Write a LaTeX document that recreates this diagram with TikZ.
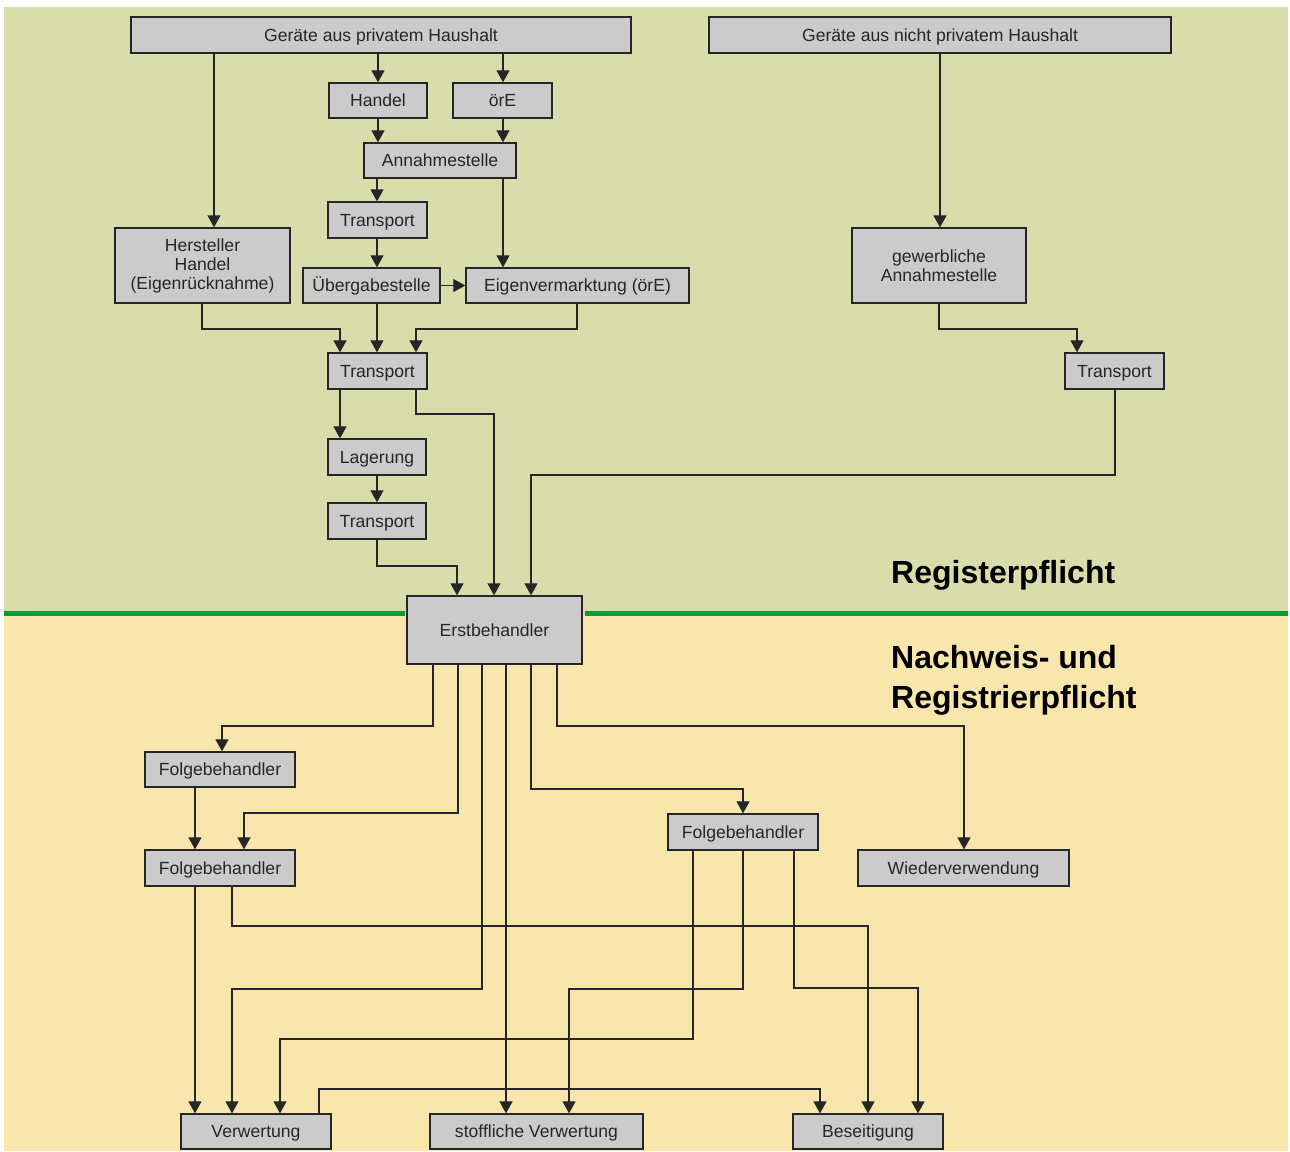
\documentclass[tikz,border=0pt]{standalone}
\usepackage{fontspec}
\setmainfont{Liberation Sans}
\usetikzlibrary{arrows.meta}
\definecolor{bgtop}{HTML}{D9DDAB}
\definecolor{bgbot}{HTML}{F8E6AC}
\definecolor{grn}{HTML}{0B9A3C}
\definecolor{boxfill}{HTML}{CBCBCB}
\definecolor{ink}{HTML}{262626}
\begin{document}
\begin{tikzpicture}[x=1pt,y=-1pt,
  box/.style={draw=ink, line width=1.3pt, fill=boxfill, inner sep=0pt, align=center,
    text=ink, font=\fontsize{17.6}{19}\selectfont},
  one/.style={box, text height=14pt, text depth=1.4pt},
  arr/.style={draw=ink, line width=1.2pt, -{Triangle[length=12pt,width=13pt]}},
  title/.style={anchor=base west, inner sep=0pt, font=\bfseries\fontsize{32}{38}\selectfont}]

\useasboundingbox (0,0) rectangle (1290,1151);
\fill[white] (0,0) rectangle (1290,1151);
\fill[bgtop] (4,7) rectangle (1288,613.7);
\fill[bgbot] (4,613.7) rectangle (1288,1151);
\draw[grn, line width=5.5pt] (4,613.7) -- (405,613.7) (585,613.7) -- (1288,613.7);

% nodes
\node[one, minimum width=500pt, minimum height=36pt] (gp) at (381,35) {Geräte aus privatem Haushalt};
\node[one, minimum width=462pt, minimum height=36pt] (gnp) at (940,35) {Geräte aus nicht privatem Haushalt};
\node[one, minimum width=98pt, minimum height=35pt] (handel) at (378,100.5) {Handel};
\node[one, minimum width=99pt, minimum height=35pt] (ore) at (502.5,100.5) {örE};
\node[one, minimum width=152pt, minimum height=35pt] (annahme) at (440,160.5) {Annahmestelle};
\node[one, minimum width=99pt, minimum height=36pt] (tr1) at (377.5,220) {Transport};
\node[box, minimum width=175pt, minimum height=75pt] (herst) at (202.5,265.5) {Hersteller\\Handel\\(Eigenrücknahme)};
\node[one, minimum width=137pt, minimum height=35pt] (ueber) at (371.5,285.5) {Übergabestelle};
\node[one, minimum width=223pt, minimum height=35pt] (eigen) at (577.5,285.5) {Eigenvermarktung (örE)};
\node[box, minimum width=174pt, minimum height=75pt] (gew) at (939,265.5) {gewerbliche\\Annahmestelle};
\node[one, minimum width=99pt, minimum height=36pt] (tr2) at (377.5,371) {Transport};
\node[one, minimum width=99pt, minimum height=36pt] (trR) at (1114.5,371) {Transport};
\node[one, minimum width=98pt, minimum height=36pt] (lager) at (377,457) {Lagerung};
\node[one, minimum width=98pt, minimum height=36pt] (tr3) at (377,521) {Transport};
\node[one, minimum width=175pt, minimum height=68pt] (erst) at (494.5,630) {Erstbehandler};
\node[one, minimum width=150pt, minimum height=35pt] (fb1) at (220,769.5) {Folgebehandler};
\node[one, minimum width=150pt, minimum height=36pt] (fb2) at (220,868) {Folgebehandler};
\node[one, minimum width=150pt, minimum height=36pt] (fb3) at (743,832) {Folgebehandler};
\node[one, minimum width=211pt, minimum height=36pt] (wieder) at (963.5,868) {Wiederverwendung};
\node[one, minimum width=150pt, minimum height=35pt] (verw) at (256,1131.5) {Verwertung};
\node[one, minimum width=213pt, minimum height=35pt] (stoff) at (536.5,1131.5) {stoffliche Verwertung};
\node[one, minimum width=150pt, minimum height=35pt] (bes) at (868,1131.5) {Beseitigung};

\node[title] (reg) at (891,583) {Registerpflicht};
\node[title] (nach1) at (891,668) {Nachweis- und};
\node[title] (nach2) at (891,708) {Registrierpflicht};

% connectors (upper part)
\draw[arr] (214,0 |- gp.south) -- (214,0 |- herst.north);
\draw[arr] (378,0 |- gp.south) -- (378,0 |- handel.north);
\draw[arr] (503,0 |- gp.south) -- (503,0 |- ore.north);
\draw[arr] (378,0 |- handel.south) -- (378,0 |- annahme.north);
\draw[arr] (503,0 |- ore.south) -- (503,0 |- annahme.north);
\draw[arr] (377,0 |- annahme.south) -- (377,0 |- tr1.north);
\draw[arr] (503,0 |- annahme.south) -- (503,0 |- eigen.north);
\draw[arr] (377,0 |- tr1.south) -- (377,0 |- ueber.north);
\draw[arr] (ueber.east) -- (eigen.west);
\draw[arr] (202,0 |- herst.south) -- (202,329) -- (340,329) -- (340,0 |- tr2.north);
\draw[arr] (377,0 |- ueber.south) -- (377,0 |- tr2.north);
\draw[arr] (577,0 |- eigen.south) -- (577,329) -- (416,329) -- (416,0 |- tr2.north);
\draw[arr] (940,0 |- gnp.south) -- (940,0 |- gew.north);
\draw[arr] (939,0 |- gew.south) -- (939,329) -- (1077,329) -- (1077,0 |- trR.north);
\draw[arr] (340,0 |- tr2.south) -- (340,0 |- lager.north);
\draw[arr] (377,0 |- lager.south) -- (377,0 |- tr3.north);
\draw[arr] (377,0 |- tr3.south) -- (377,566) -- (457,566) -- (457,0 |- erst.north);
\draw[arr] (416,0 |- tr2.south) -- (416,414) -- (494,414) -- (494,0 |- erst.north);
\draw[arr] (1115,0 |- trR.south) -- (1115,475) -- (531,475) -- (531,0 |- erst.north);

% connectors (lower part)
\draw[arr] (433,0 |- erst.south) -- (433,726) -- (222,726) -- (222,0 |- fb1.north);
\draw[arr] (458,0 |- erst.south) -- (458,813) -- (244,813) -- (244,0 |- fb2.north);
\draw[arr] (195,0 |- fb1.south) -- (195,0 |- fb2.north);
\draw[arr] (482,0 |- erst.south) -- (482,989) -- (232,989) -- (232,0 |- verw.north);
\draw[arr] (506,0 |- erst.south) -- (506,0 |- stoff.north);
\draw[arr] (531,0 |- erst.south) -- (531,789) -- (743,789) -- (743,0 |- fb3.north);
\draw[arr] (557,0 |- erst.south) -- (557,726) -- (964,726) -- (964,0 |- wieder.north);
\draw[arr] (195,0 |- fb2.south) -- (195,0 |- verw.north);
\draw[arr] (232,0 |- fb2.south) -- (232,926) -- (868,926) -- (868,0 |- bes.north);
\draw[arr] (693,0 |- fb3.south) -- (693,1039) -- (280,1039) -- (280,0 |- verw.north);
\draw[arr] (743,0 |- fb3.south) -- (743,989) -- (569,989) -- (569,0 |- stoff.north);
\draw[arr] (794,0 |- fb3.south) -- (794,988) -- (918,988) -- (918,0 |- bes.north);
\draw[arr] (319,0 |- verw.north) -- (319,1089) -- (820,1089) -- (820,0 |- bes.north);
\end{tikzpicture}
\end{document}
